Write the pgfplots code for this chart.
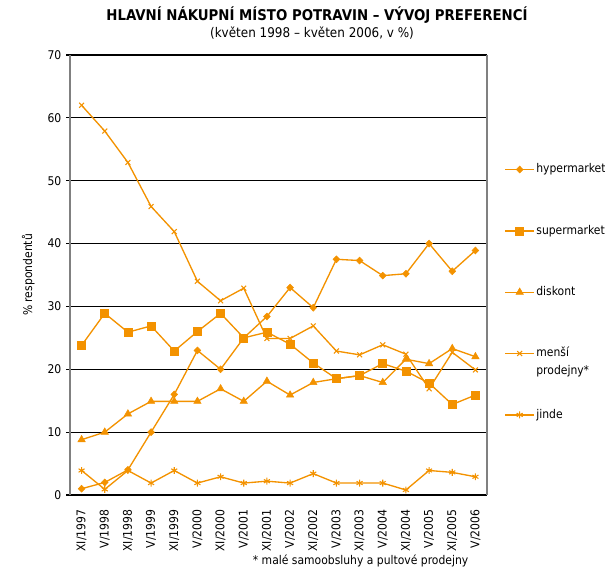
\documentclass[border=0pt]{standalone}
\usepackage{pgfplots}
\pgfplotsset{compat=1.18}
\usepackage{fontspec}
\setmainfont{DejaVu Sans Condensed}
\definecolor{orng}{RGB}{243,146,0}
\definecolor{axgray}{RGB}{128,128,128}
\begin{document}
\begin{tikzpicture}
\path[use as bounding box] (0pt,0pt) rectangle (453.75pt,431.25pt);
\node[font=\bfseries\fontsize{11.1}{13}\selectfont] at (237.75pt,420pt) {HLAVNÍ NÁKUPNÍ MÍSTO POTRAVIN – VÝVOJ PREFERENCÍ};
\node[font=\fontsize{10}{12}\selectfont] at (234pt,406.5pt) {(květen 1998 – květen 2006, v \%)};
\node[font=\fontsize{9}{11}\selectfont, anchor=east] at (354.75pt,10.5pt) {* malé samoobsluhy a pultové prodejny};
\begin{axis}[
  at={(52.5pt,60pt)}, anchor=south west,
  scale only axis, width=312.75pt, height=330pt,
  xmin=-0.5, xmax=17.5, ymin=0, ymax=70,
  font=\fontsize{9}{11}\selectfont,
  /pgf/number format/assume math mode=true,
  ytick={0,10,...,70},
  ymajorgrids, grid style={black, line width=0.8pt},
  xtick={0,...,17},
  xticklabels={XI/1997,V/1998,XI/1998,V/1999,XI/1999,V/2000,XI/2000,V/2001,XI/2001,V/2002,XI/2002,V/2003,XI/2003,V/2004,XI/2004,V/2005,XI/2005,V/2006},
  x tick label style={rotate=90, anchor=east},
  xticklabel shift=4.5pt,
  major x tick style={draw=none},
  extra x ticks={-0.5,0.5,...,17.5},
  extra x tick labels={},
  extra x tick style={major tick length=3pt, grid=none, tick style={black, line width=0.8pt}},
  tick align=outside, ytick pos=left, xtick pos=bottom,
  major tick length=3pt,
  tick style={black, line width=0.8pt},
  separate axis lines,
  x axis line style={black, line width=0.8pt},
  y axis line style={axgray, line width=1.5pt},
  ylabel={\% respondentů},
  ylabel style={at={(axis description cs:-0.1,0.5)}, anchor=center},
  legend cell align=left,
  legend style={at={(axis description cs:1.041,0.757)}, anchor=north west, draw=none, fill=none, inner sep=0pt, row sep=35pt, column sep=0pt,
    nodes={inner sep=1pt, text height=7pt, text depth=2pt, font=\fontsize{9}{13}\selectfont}},
  legend image code/.code={\draw[mark repeat=2,mark phase=2] plot coordinates {(0pt,0pt) (11pt,0pt) (22pt,0pt)};},
]
\addplot[orng, line width=1pt, mark=diamond*, mark size=2.6pt, mark options={fill=orng, draw=orng, line width=0.4pt, xscale=1.3}] coordinates {
(0,1) (1,2) (2,4) (3,10) (4,16) (5,23) (6,20) (7,25) (8,28.4) (9,33) (10,29.8) (11,37.5) (12,37.3) (13,34.9) (14,35.2) (15,40) (16,35.6) (17,38.9)};
\addlegendentry{hypermarket}
\addplot[orng, line width=1pt, mark=square*, mark size=3pt, mark options={fill=orng, draw=orng, line width=0.4pt}] coordinates {
(0,23.8) (1,28.9) (2,25.9) (3,26.9) (4,22.9) (5,26) (6,28.9) (7,25) (8,25.9) (9,24) (10,21) (11,18.5) (12,19) (13,20.9) (14,19.7) (15,17.8) (16,14.4) (17,15.9)};
\addlegendentry{supermarket}
\addplot[orng, line width=1pt, mark=triangle*, mark size=3.2pt, mark options={fill=orng, draw=orng, line width=0.4pt}] coordinates {
(0,8.8) (1,10) (2,12.9) (3,14.9) (4,14.9) (5,14.9) (6,16.9) (7,14.9) (8,18.1) (9,15.9) (10,17.9) (11,18.5) (12,19) (13,17.9) (14,21.6) (15,20.9) (16,23.3) (17,22)};
\addlegendentry{diskont}
\addplot[orng, line width=1pt, mark=x, mark size=2.6pt, mark options={draw=orng, line width=0.8pt}] coordinates {
(0,62) (1,57.9) (2,52.9) (3,45.9) (4,41.9) (5,34) (6,30.9) (7,32.9) (8,24.9) (9,24.9) (10,26.9) (11,22.9) (12,22.3) (13,23.9) (14,22.4) (15,16.9) (16,22.7) (17,19.9)};
\addlegendentry{\begin{tabular}[t]{@{}l@{}}menší\\prodejny*\end{tabular}}
\addplot[orng, line width=1pt, mark=asterisk, mark size=2.6pt, mark options={draw=orng, line width=0.8pt}] coordinates {
(0,3.9) (1,0.9) (2,3.9) (3,1.9) (4,3.9) (5,1.9) (6,2.9) (7,1.9) (8,2.2) (9,1.9) (10,3.4) (11,1.9) (12,1.9) (13,1.9) (14,0.8) (15,3.9) (16,3.6) (17,2.9)};
\addlegendentry{jinde}
\end{axis}
\end{tikzpicture}
\end{document}
